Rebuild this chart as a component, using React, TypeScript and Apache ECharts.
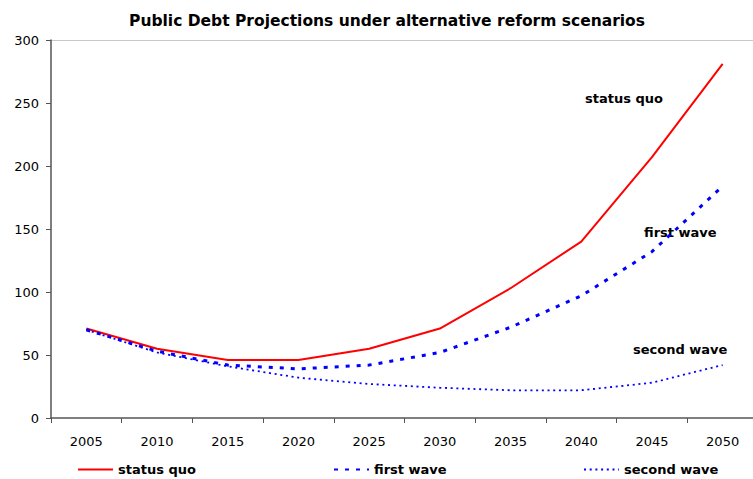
import React, { useEffect, useRef } from "react";
import * as echarts from "echarts";

const years = ["2005", "2010", "2015", "2020", "2025", "2030", "2035", "2040", "2045", "2050"];
const statusQuo = [71, 55, 46, 46, 55, 71, 103, 140, 207, 281];
const firstWave = [70, 53, 42, 39, 42, 52, 72, 97, 132, 184];
const secondWave = [70, 52, 41, 32, 27, 24, 22, 22, 28, 42];
const yTicks = { min: 0, max: 300, interval: 50 };
const titleText = "Public Debt Projections under alternative reform scenarios";
const seriesNames = ["status quo", "first wave", "second wave"];

const FONT = "DejaVu Sans";

export default function App() {
  const ref = useRef<HTMLDivElement>(null);
  useEffect(() => {
    if (!ref.current) return;
    const chart = echarts.init(ref.current, undefined, { renderer: "svg" });
    const labelStyle = { fontFamily: FONT, fontSize: 13, fontWeight: "bold", fill: "#000" };
    const nLines = (yTicks.max - yTicks.min) / yTicks.interval + 1;
    const splitColors = Array.from({ length: nLines }, (_, i) => (i === nLines - 1 ? "#c8c8c8" : "rgba(0,0,0,0)"));
    chart.setOption({
      animation: false,
      backgroundColor: "#fff",
      title: {
        text: titleText,
        left: 382,
        textAlign: "center",
        top: 8,
        textStyle: { fontFamily: FONT, fontSize: 15.5, fontWeight: "bold", color: "#000" },
      },
      grid: {
        left: 51,
        top: 40,
        width: 707,
        height: 378,
        show: false,
        outerBoundsMode: "none",
        containLabel: false,
      },
      xAxis: {
        type: "category",
        data: years,
        boundaryGap: true,
        axisLine: { lineStyle: { color: "#555", width: 1.5 } },
        axisTick: { show: true, length: 5, lineStyle: { color: "#555" } },
        axisLabel: { fontFamily: FONT, fontSize: 13, color: "#000", margin: 17 },
        splitLine: { show: false },
      },
      yAxis: {
        type: "value",
        min: yTicks.min,
        max: yTicks.max,
        interval: yTicks.interval,
        axisLine: { show: true, lineStyle: { color: "#555", width: 1.5 } },
        axisTick: { show: true, length: 5, lineStyle: { color: "#555" } },
        axisLabel: { fontFamily: FONT, fontSize: 13, color: "#000", margin: 12 },
        splitLine: { show: true, lineStyle: { color: splitColors, width: 1 } },
      },
      legend: [
        { data: [seriesNames[0]], left: 72, top: 458 },
        { data: [seriesNames[1]], left: 328, top: 458 },
        { data: [seriesNames[2]], left: 578, top: 458 },
      ].map((l) => ({
        ...l,
        itemWidth: 35,
        itemHeight: 14,
        itemGap: 0,
        itemStyle: { opacity: 0 },
        textStyle: { fontFamily: FONT, fontSize: 13, fontWeight: "bold", color: "#000" },
      })),
      series: [
        {
          name: seriesNames[0],
          type: "line",
          data: statusQuo,
          symbol: "none",
          lineStyle: { color: "#ff0000", width: 2 },
          itemStyle: { color: "#ff0000" },
        },
        {
          name: seriesNames[1],
          type: "line",
          data: firstWave,
          symbol: "none",
          lineStyle: { color: "#0000ff", width: 3, type: [4, 7] },
          itemStyle: { color: "#0000ff" },
        },
        {
          name: seriesNames[2],
          type: "line",
          data: secondWave,
          symbol: "none",
          lineStyle: { color: "#0000ff", width: 1.8, type: [2, 3.7] },
          itemStyle: { color: "#0000ff" },
        },
      ],
      graphic: [
        { type: "text", left: 585, top: 92, style: { ...labelStyle, text: seriesNames[0] } },
        { type: "text", left: 644, top: 226, style: { ...labelStyle, text: seriesNames[1] } },
        { type: "text", left: 633, top: 343, style: { ...labelStyle, text: seriesNames[2] } },
      ],
    });
    return () => chart.dispose();
  }, []);
  return <div ref={ref} style={{ width: 753, height: 479, position: "absolute", left: 0, top: 0 }} />;
}
